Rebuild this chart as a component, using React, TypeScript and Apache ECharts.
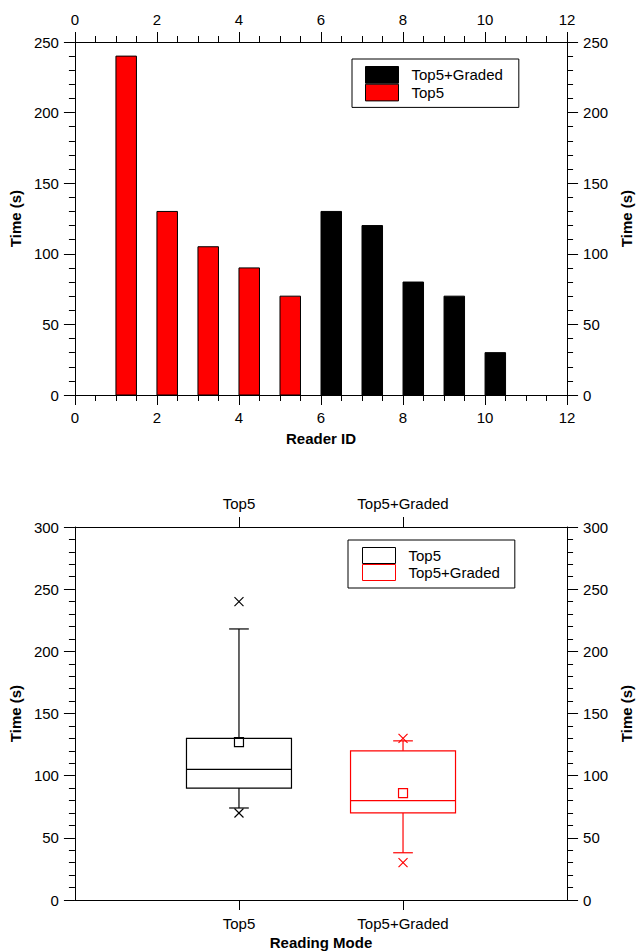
import React, { useEffect, useRef } from "react";
import * as echarts from "echarts";

// ---- Data ----
const TOP5_IDS = [1, 2, 3, 4, 5];
const TOP5_TIMES = [240, 130, 105, 90, 70];
const GRADED_IDS = [6, 7, 8, 9, 10];
const GRADED_TIMES = [130, 120, 80, 70, 30];

const MODES = ["Top5", "Top5+Graded"];
const MODE_POS = [1, 2];
// box stats: whisker low, q1, median, q3, whisker high
const BOX_TOP5 = [74, 90, 105, 130, 218];
const BOX_GRADED = [38, 70, 80, 120, 128];
const MEANS = [127, 86];
const MINS = [70, 30];
const MAXS = [240, 130];

const FONT = "Liberation Sans, Arial, Helvetica, sans-serif";
const RED = "#ff0000";
const BLACK = "#000000";

const BAR_SPAN = 0.5;
const BOX_SPAN = 0.64;
const CAP_SPAN = 0.12;

const barRender = (fill: string) => (params: any, api: any) => {
  const id = api.value(0);
  const v = api.value(1);
  const p0 = api.coord([id, v]);
  const p1 = api.coord([id + BAR_SPAN, 0]);
  return {
    type: "rect",
    shape: { x: p0[0], y: p0[1], width: p1[0] - p0[0], height: p1[1] - p0[1] },
    style: { fill, stroke: BLACK, lineWidth: 1 },
  };
};

const boxRender = (color: string) => (params: any, api: any) => {
  const x = api.value(0);
  const wl = api.value(1), q1 = api.value(2), med = api.value(3), q3 = api.value(4), wh = api.value(5);
  const mean = api.value(6), mn = api.value(7), mx = api.value(8);
  const half = api.size([BOX_SPAN, 0])[0] / 2;
  const cap = api.size([CAP_SPAN, 0])[0] / 2;
  const cx = api.coord([x, q1])[0];
  const y = (v: number) => api.coord([x, v])[1];
  const ls = { stroke: color, lineWidth: 1.2, fill: "none" };
  const line = (x1: number, y1: number, x2: number, y2: number) => ({
    type: "line",
    shape: { x1, y1, x2, y2 },
    style: ls,
  });
  const cross = (v: number) => {
    const yy = y(v);
    const s = 4.5;
    return [line(cx - s, yy - s, cx + s, yy + s), line(cx - s, yy + s, cx + s, yy - s)];
  };
  const children: any[] = [
    {
      type: "rect",
      shape: { x: cx - half, y: y(q3), width: 2 * half, height: y(q1) - y(q3) },
      style: ls,
    },
    line(cx - half, y(med), cx + half, y(med)),
    line(cx, y(q3), cx, y(wh)),
    line(cx - cap, y(wh), cx + cap, y(wh)),
    line(cx, y(q1), cx, y(wl)),
    line(cx - cap, y(wl), cx + cap, y(wl)),
    {
      type: "rect",
      shape: { x: cx - 4.5, y: y(mean) - 4.5, width: 9, height: 9 },
      style: ls,
    },
    ...cross(mn),
    ...cross(mx),
  ];
  return { type: "group", children };
};

const labelStyle = { fontSize: 15, fontFamily: FONT, color: BLACK };
const nameStyle = { fontSize: 15, fontFamily: FONT, color: BLACK, fontWeight: "bold" as const };
const axisLine = { show: true, onZero: false, lineStyle: { color: BLACK, width: 1 } };

const App: React.FC = () => {
  const ref = useRef<HTMLDivElement>(null);
  useEffect(() => {
    if (!ref.current) return;
    const chart = echarts.init(ref.current, undefined, { renderer: "svg" });
    const valueX = (position: "top" | "bottom", showName: boolean) => ({
      type: "value",
      gridIndex: 0,
      position,
      min: 0,
      max: 12,
      interval: 2,
      name: showName ? "Reader ID" : "",
      nameLocation: "middle",
      nameGap: 36,
      nameTextStyle: nameStyle,
      axisLine,
      axisTick: { show: true, length: 10, lineStyle: { color: BLACK } },
      minorTick: { show: true, splitNumber: 4, length: 6, lineStyle: { color: BLACK } },
      axisLabel: { ...labelStyle, margin: 15 },
      splitLine: { show: false },
      minorSplitLine: { show: false },
    });
    const timeY = (gridIndex: number, position: "left" | "right", max: number) => ({
      type: "value",
      gridIndex,
      position,
      min: 0,
      max,
      interval: 50,
      name: "Time (s)",
      nameLocation: "middle",
      nameRotate: 90,
      nameGap: 47,
      nameTextStyle: nameStyle,
      axisLine,
      axisTick: { show: true, length: 11, lineStyle: { color: BLACK } },
      minorTick: { show: true, splitNumber: 5, length: 6, lineStyle: { color: BLACK } },
      axisLabel: { ...labelStyle, margin: 16 },
      splitLine: { show: false },
      minorSplitLine: { show: false },
    });
    const modeX = (position: "top" | "bottom", showName: boolean) => ({
      type: "value",
      gridIndex: 1,
      position,
      min: 0,
      max: 3,
      name: showName ? "Reading Mode" : "",
      nameLocation: "middle",
      nameGap: 35,
      nameTextStyle: nameStyle,
      axisLine,
      axisTick: { show: true, length: 10, customValues: MODE_POS, lineStyle: { color: BLACK } },
      axisLabel: {
        ...labelStyle,
        margin: 16,
        customValues: MODE_POS,
        formatter: (v: number) => MODES[MODE_POS.indexOf(v)] ?? "",
      },
      splitLine: { show: false },
    });

    const boxData = (i: number, stats: number[]) => [
      [MODE_POS[i], ...stats, MEANS[i], MINS[i], MAXS[i]],
    ];

    chart.setOption({
      animation: false,
      textStyle: { fontFamily: FONT },
      grid: [
        { left: 74, top: 42, width: 497, height: 353 },
        { left: 74, top: 527, width: 498, height: 373 },
      ],
      legend: [
        {
          left: 352,
          top: 59,
          orient: "vertical",
          selectedMode: false,
          itemWidth: 33,
          itemHeight: 16.7,
          itemGap: 0,
          padding: [7, 16, 6, 13],
          borderColor: BLACK,
          borderWidth: 1,
          textStyle: { ...labelStyle, padding: [0, 0, 0, 8] },
          data: [
            { name: "Top5+Graded", icon: "rect", itemStyle: { color: BLACK, borderColor: BLACK, borderWidth: 1 } },
            { name: "Top5", icon: "rect", itemStyle: { color: RED, borderColor: BLACK, borderWidth: 1 } },
          ],
        },
        {
          left: 348,
          top: 540,
          orient: "vertical",
          selectedMode: false,
          itemWidth: 33,
          itemHeight: 16,
          itemGap: 0,
          padding: [7, 15, 7, 14],
          borderColor: BLACK,
          borderWidth: 1,
          textStyle: { ...labelStyle, padding: [0, 0, 0, 8] },
          data: [
            { name: "Top5", icon: "rect", itemStyle: { color: "#ffffff", borderColor: BLACK, borderWidth: 1 } },
            { name: "Top5+Graded", icon: "rect", itemStyle: { color: "#ffffff", borderColor: RED, borderWidth: 1 } },
          ],
        },
      ],
      xAxis: [valueX("bottom", true), valueX("top", false), modeX("bottom", true), modeX("top", false)],
      yAxis: [timeY(0, "left", 250), timeY(0, "right", 250), timeY(1, "left", 300), timeY(1, "right", 300)],
      series: [
        {
          type: "custom",
          name: "Top5",
          xAxisIndex: 0,
          yAxisIndex: 0,
          itemStyle: { color: RED },
          encode: { x: 0, y: 1 },
          renderItem: barRender(RED),
          data: TOP5_IDS.map((id, i) => [id, TOP5_TIMES[i]]),
        },
        {
          type: "custom",
          name: "Top5+Graded",
          xAxisIndex: 0,
          yAxisIndex: 0,
          itemStyle: { color: BLACK },
          encode: { x: 0, y: 1 },
          renderItem: barRender(BLACK),
          data: GRADED_IDS.map((id, i) => [id, GRADED_TIMES[i]]),
        },
        {
          type: "custom",
          name: "Top5",
          xAxisIndex: 2,
          yAxisIndex: 2,
          itemStyle: { color: BLACK },
          encode: { x: 0, y: [1, 2, 3, 4, 5, 6, 7, 8] },
          renderItem: boxRender(BLACK),
          data: boxData(0, BOX_TOP5),
        },
        {
          type: "custom",
          name: "Top5+Graded",
          xAxisIndex: 2,
          yAxisIndex: 2,
          itemStyle: { color: RED },
          encode: { x: 0, y: [1, 2, 3, 4, 5, 6, 7, 8] },
          renderItem: boxRender(RED),
          data: boxData(1, BOX_GRADED),
        },
      ],
    });
    return () => chart.dispose();
  }, []);
  return (
    <div
      ref={ref}
      style={{ position: "absolute", left: 0, top: 0, width: 642, height: 951, background: "#fff" }}
    />
  );
};

export default App;
